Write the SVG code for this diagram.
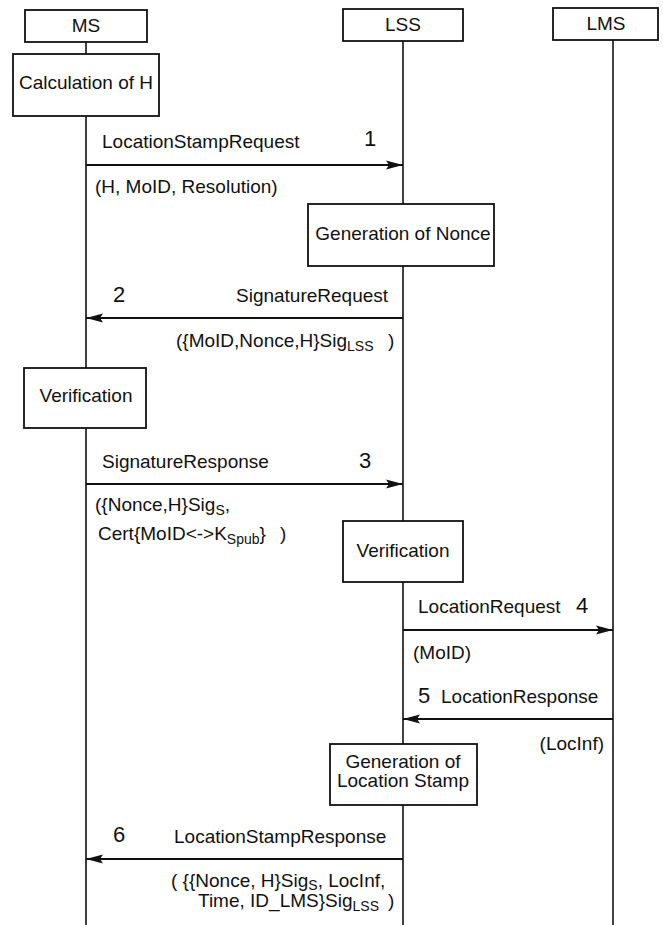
<svg xmlns="http://www.w3.org/2000/svg" width="663" height="925" viewBox="0 0 663 925">
<style>
  .box{fill:#fff;stroke:#111;stroke-width:1.8}
  .life{stroke:#111;stroke-width:1.6;fill:none}
  .msg{stroke:#111;stroke-width:2;fill:none}
  text{font-family:"Liberation Sans",Arial,Helvetica,sans-serif;font-size:19px;fill:#111}
  .num{font-size:22px}
  .sub{font-size:14px}
  .c{text-anchor:middle}
  .e{text-anchor:end}
</style>
<defs>
  <marker id="ah" markerUnits="userSpaceOnUse" markerWidth="18" markerHeight="10" refX="17" refY="5" orient="auto">
    <path d="M0,0.5 L17,5 L0,9.5 L3,5 z" fill="#111"/>
  </marker>
</defs>
<rect width="663" height="925" fill="#fff"/>

<g id="lifelines">
  <path class="life" d="M86,42 V54 M86,116 V368 M86,428 V925"/>
  <path class="life" d="M403,41 V204 M403,266 V521 M403,582 V744 M403,805 V925"/>
  <path class="life" d="M613,40 V925"/>
</g>

<g id="MS">
  <rect class="box" x="25" y="10" width="122" height="32"/>
  <text class="c" x="86" y="32">MS</text>
</g>
<g id="LSS">
  <rect class="box" x="343" y="9" width="120" height="32"/>
  <text class="c" x="403" y="31">LSS</text>
</g>
<g id="LMS">
  <rect class="box" x="553" y="8" width="105" height="32"/>
  <text class="c" x="606" y="30">LMS</text>
</g>
<g id="calcH">
  <rect class="box" x="13" y="54" width="146" height="62"/>
  <text class="c" x="86" y="89">Calculation of H</text>
</g>
<g id="genNonce">
  <rect class="box" x="308" y="204" width="186" height="62"/>
  <text class="c" x="403" y="240">Generation of Nonce</text>
</g>
<g id="verifMS">
  <rect class="box" x="24" y="368" width="122" height="60"/>
  <text class="c" x="86" y="402">Verification</text>
</g>
<g id="verifLSS">
  <rect class="box" x="343" y="521" width="120" height="61"/>
  <text class="c" x="403" y="557">Verification</text>
</g>
<g id="genStamp">
  <rect class="box" x="330" y="744" width="147" height="61"/>
  <text class="c" x="403" y="768">Generation of</text>
  <text class="c" x="403" y="787">Location Stamp</text>
</g>

<g id="connectors">
  <line class="msg" x1="86" y1="165" x2="403" y2="165" marker-end="url(#ah)"/>
  <line class="msg" x1="403" y1="318" x2="86" y2="318" marker-end="url(#ah)"/>
  <line class="msg" x1="86" y1="484" x2="403" y2="484" marker-end="url(#ah)"/>
  <line class="msg" x1="403" y1="630" x2="613" y2="630" marker-end="url(#ah)"/>
  <line class="msg" x1="613" y1="719" x2="403" y2="719" marker-end="url(#ah)"/>
  <line class="msg" x1="403" y1="859" x2="86" y2="859" marker-end="url(#ah)"/>
</g>

<g id="labels">
  <text x="102" y="148">LocationStampRequest</text>
  <text class="num" x="364" y="146">1</text>
  <text x="95" y="193">(H, MoID, Resolution)</text>

  <text class="num" x="113" y="302">2</text>
  <text x="236" y="302">SignatureRequest</text>
  <text x="176" y="347">({MoID,Nonce,H}Sig<tspan class="sub" dy="4">LSS</tspan></text>
  <text x="388" y="347">)</text>

  <text x="102" y="468">SignatureResponse</text>
  <text class="num" x="359" y="468">3</text>
  <text x="95" y="511">({Nonce,H}Sig<tspan class="sub" dy="4">S</tspan><tspan dy="-4">,</tspan></text>
  <text x="98" y="540">Cert{MoID&lt;-&gt;K<tspan class="sub" dy="4">Spub</tspan><tspan dy="-4">}</tspan></text>
  <text x="280" y="540">)</text>

  <text x="418" y="613">LocationRequest</text>
  <text class="num" x="576" y="613">4</text>
  <text x="413" y="659">(MoID)</text>

  <text class="num" x="418" y="703">5</text>
  <text x="441" y="703">LocationResponse</text>
  <text class="e" x="604" y="750">(LocInf)</text>

  <text class="num" x="113" y="842">6</text>
  <text x="174" y="843">LocationStampResponse</text>
  <text x="171" y="887">( {{Nonce, H}Sig<tspan class="sub" dy="3">S</tspan><tspan dy="-3">, LocInf,</tspan></text>
  <text x="198" y="907">Time, ID_LMS}Sig<tspan class="sub" dy="4">LSS</tspan></text>
  <text x="388" y="907">)</text>
</g>
</svg>
